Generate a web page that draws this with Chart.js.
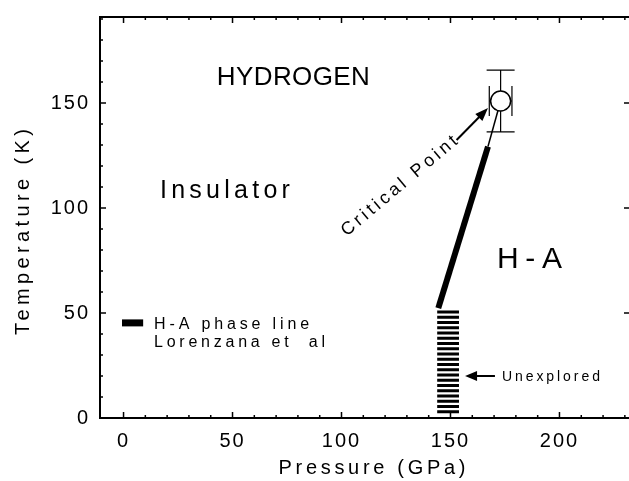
<!DOCTYPE html>
<html><head><meta charset="utf-8">
<script src="https://cdn.jsdelivr.net/npm/chart.js@4"></script>
<style>html,body{margin:0;padding:0;background:#fff;overflow:hidden}#wrap{width:629px;height:481px;position:relative}canvas{display:block}</style>
</head><body><div id="wrap"><canvas id="c"></canvas></div>
<script>
// ---------- data ----------
const xTickLabels = [0, 50, 100, 150, 200];
const yTickLabels = [0, 50, 100, 150];
const xTitle = 'Pressure (GPa)';
const yTitle = 'Temperature (K)';
// H-A phase line (Lorenzana et al): [pressure GPa], [temperature K]
const phaseLineP = [144.4, 167.2];
const phaseLineT = [52.3, 129.3];
// critical point with error bars
const criticalP = 173.0;
const criticalT = 151.0;
const criticalErrP = 5.2;
const criticalErrT = 14.7;
// unexplored hatched region
const unexploredP = [143.9, 153.9];
const unexploredT = [50.5, 48.0, 45.5, 43.0, 40.5, 38.0, 35.5, 33.0, 30.5, 28.0,
                     25.5, 23.0, 20.5, 18.0, 15.5, 13.0, 10.5, 8.0, 5.5, 3.0];
// legend sample line
const legendP = [-0.7, 9.0];
const legendT = 45.3;
// annotation texts
const txtHydrogen = 'HYDROGEN';
const txtInsulator = 'Insulator';
const txtHA = 'H-A';
const txtCritical = 'Critical Point';
const txtUnexplored = 'Unexplored';
const txtLegend1 = 'H-A phase line';
const txtLegend2 = 'Lorenzana et  al';

// ---------- drawing ----------
const FONT = '"Liberation Sans", Arial, sans-serif';
function fitText(ctx, text, x, y, size, width, align, rot) {
  ctx.save();
  ctx.font = size + 'px ' + FONT;
  ctx.letterSpacing = '0px';
  const w0 = ctx.measureText(text).width;
  const n = [...text].length;
  const s = n > 1 ? (width - w0) / (n - 1) : 0;
  ctx.letterSpacing = s + 'px';
  ctx.fillStyle = '#000';
  ctx.textBaseline = 'alphabetic';
  ctx.textAlign = 'left';
  ctx.translate(x, y);
  ctx.rotate((rot || 0) * Math.PI / 180);
  ctx.fillText(text, align === 'center' ? -width / 2 : 0, 0);
  ctx.restore();
}
function arrow(ctx, x1, y1, x2, y2, len, half, lw) {
  const a = Math.atan2(y2 - y1, x2 - x1);
  ctx.save();
  ctx.strokeStyle = '#000'; ctx.fillStyle = '#000'; ctx.lineWidth = lw;
  ctx.beginPath();
  ctx.moveTo(x1, y1);
  ctx.lineTo(x2 - Math.cos(a) * len * 0.8, y2 - Math.sin(a) * len * 0.8);
  ctx.stroke();
  ctx.beginPath();
  ctx.moveTo(x2, y2);
  ctx.lineTo(x2 - Math.cos(a) * len - Math.sin(a) * half, y2 - Math.sin(a) * len + Math.cos(a) * half);
  ctx.lineTo(x2 - Math.cos(a) * len + Math.sin(a) * half, y2 - Math.sin(a) * len - Math.cos(a) * half);
  ctx.closePath();
  ctx.fill();
  ctx.restore();
}

const hatchData = [];
unexploredT.forEach(t => {
  hatchData.push({x: unexploredP[0], y: t}, {x: unexploredP[1], y: t}, {x: unexploredP[1], y: null});
});

const decor = {
  id: 'decor',
  beforeDraw(chart) { chart.ctx.letterSpacing = '2px'; },
  afterDraw(chart) { chart.ctx.letterSpacing = '0px'; drawDecor(chart); },
  beforeDatasetsDraw(chart) {
    const ctx = chart.ctx, X = chart.scales.x, Y = chart.scales.y;
    const cx = X.getPixelForValue(criticalP), cy = Y.getPixelForValue(criticalT);
    const yt = Y.getPixelForValue(criticalT + criticalErrT), yb = Y.getPixelForValue(criticalT - criticalErrT);
    const xl = X.getPixelForValue(criticalP - criticalErrP), xr = X.getPixelForValue(criticalP + criticalErrP);
    ctx.save();
    ctx.strokeStyle = '#000'; ctx.lineWidth = 1.2;
    ctx.beginPath();
    ctx.moveTo(cx, yt); ctx.lineTo(cx, yb);
    ctx.moveTo(cx - 14, yt); ctx.lineTo(cx + 14, yt);
    ctx.moveTo(cx - 14, yb); ctx.lineTo(cx + 14, yb);
    ctx.moveTo(xl, cy); ctx.lineTo(xr, cy);
    ctx.moveTo(xl, cy - 15); ctx.lineTo(xl, cy + 15);
    ctx.moveTo(xr, cy - 15); ctx.lineTo(xr, cy + 15);
    ctx.stroke();
    ctx.restore();
  }
};
function drawDecor(chart) {
    const ctx = chart.ctx, X = chart.scales.x, Y = chart.scales.y, A = chart.chartArea;
    ctx.save();
    ctx.strokeStyle = '#000';
    // top frame
    ctx.lineWidth = 2;
    ctx.beginPath(); ctx.moveTo(A.left - 1, A.top); ctx.lineTo(A.right, A.top); ctx.stroke();
    // inward tick marks
    ctx.lineWidth = 1.5;
    ctx.beginPath();
    for (let v = 0; v <= X.max; v += 10) {
      const px = X.getPixelForValue(v);
      const L = v % 50 === 0 ? 6 : 3;
      ctx.moveTo(px, A.bottom); ctx.lineTo(px, A.bottom - L);
      ctx.moveTo(px, A.top); ctx.lineTo(px, A.top + L);
    }
    for (let v = 10; v <= Y.max; v += 10) {
      const py = Y.getPixelForValue(v);
      const L = v % 50 === 0 ? 6 : 3;
      ctx.moveTo(A.left, py); ctx.lineTo(A.left + L, py);
      if (v % 50 === 0) { ctx.moveTo(A.right, py); ctx.lineTo(A.right - 5, py); }
    }
    ctx.stroke();
    ctx.restore();

    // annotations
    const P = v => X.getPixelForValue(v), T = v => Y.getPixelForValue(v);
    fitText(ctx, txtHydrogen, P(77.9), T(158.6), 26, 153, 'center');
    fitText(ctx, txtInsulator, P(16.7), T(104.6), 25, 130, 'left');
    fitText(ctx, txtHA, P(171.3), T(71.4), 30, 65, 'left');
    fitText(ctx, txtCritical, P(102.4), T(86.3), 18, 146, 'left', -40);
    fitText(ctx, txtUnexplored, P(173.6), T(17.4), 14, 98, 'left');
    fitText(ctx, txtLegend1, P(14.0), T(42.4), 16, 155, 'left');
    fitText(ctx, txtLegend2, P(14.0), T(33.9), 16, 171, 'left');
    arrow(ctx, P(152.8), T(132.4), P(167.2), T(147.6), 13, 5, 2);
    arrow(ctx, P(170.4), T(20.0), P(156.7), T(20.0), 12, 5, 2);

    // axis titles
    fitText(ctx, xTitle, 372, 474, 20, 187, 'center');
    fitText(ctx, yTitle, 29, 232, 20, 206, 'center', -90);
}

const tickFont = {family: FONT, size: 20};
new Chart(document.getElementById('c'), {
  type: 'scatter',
  data: {
    datasets: [
      {label: 'Critical point', data: [{x: criticalP, y: criticalT}], pointRadius: 10, pointHoverRadius: 10,
       pointBackgroundColor: '#fff', pointBorderColor: '#000', pointBorderWidth: 1.5, order: 0},
      {label: 'to critical point', data: [{x: phaseLineP[1], y: phaseLineT[1]}, {x: criticalP, y: criticalT}],
       showLine: true, borderColor: '#000', borderWidth: 1.5, pointRadius: 0, order: 3},
      {label: 'H-A phase line', data: [{x: phaseLineP[0], y: phaseLineT[0]}, {x: phaseLineP[1], y: phaseLineT[1]}],
       showLine: true, borderColor: '#000', borderWidth: 6, pointRadius: 0, order: 2},
      {label: 'Unexplored', data: hatchData, showLine: true, spanGaps: false, borderColor: '#000',
       borderWidth: 3, borderCapStyle: 'butt', pointRadius: 0, order: 2},
      {label: 'legend sample', data: [{x: legendP[0], y: legendT}, {x: legendP[1], y: legendT}],
       showLine: true, borderColor: '#000', borderWidth: 7, borderCapStyle: 'butt', pointRadius: 0, order: 2}
    ]
  },
  options: {
    responsive: true, maintainAspectRatio: false, animation: false,
    layout: {autoPadding: false, padding: {top: 17, left: 0, right: 0, bottom: 0}},
    plugins: {legend: {display: false}, tooltip: {enabled: false}},
    events: [],
    scales: {
      x: {
        type: 'linear', min: -10.8, max: 231.9,
        grid: {display: false, drawTicks: false},
        border: {display: true, color: '#000', width: 2},
        ticks: {color: '#000', font: tickFont, padding: 11, maxRotation: 0, autoSkip: false},
        afterBuildTicks: s => { s.ticks = xTickLabels.map(v => ({value: v})); },
        afterFit: s => { s.height = 63; s.paddingLeft = 0; s.paddingRight = 0; s.paddingTop = 0; s.paddingBottom = 0; }
      },
      y: {
        type: 'linear', min: 0, max: 191,
        grid: {display: false, drawTicks: false},
        border: {display: true, color: '#000', width: 2},
        ticks: {color: '#000', font: tickFont, padding: 10, autoSkip: false},
        afterBuildTicks: s => { s.ticks = yTickLabels.map(v => ({value: v})); },
        afterFit: s => { s.width = 100; s.paddingLeft = 0; s.paddingRight = 0; s.paddingTop = 0; s.paddingBottom = 0; }
      }
    }
  },
  plugins: [decor]
});
</script>
</body></html>
